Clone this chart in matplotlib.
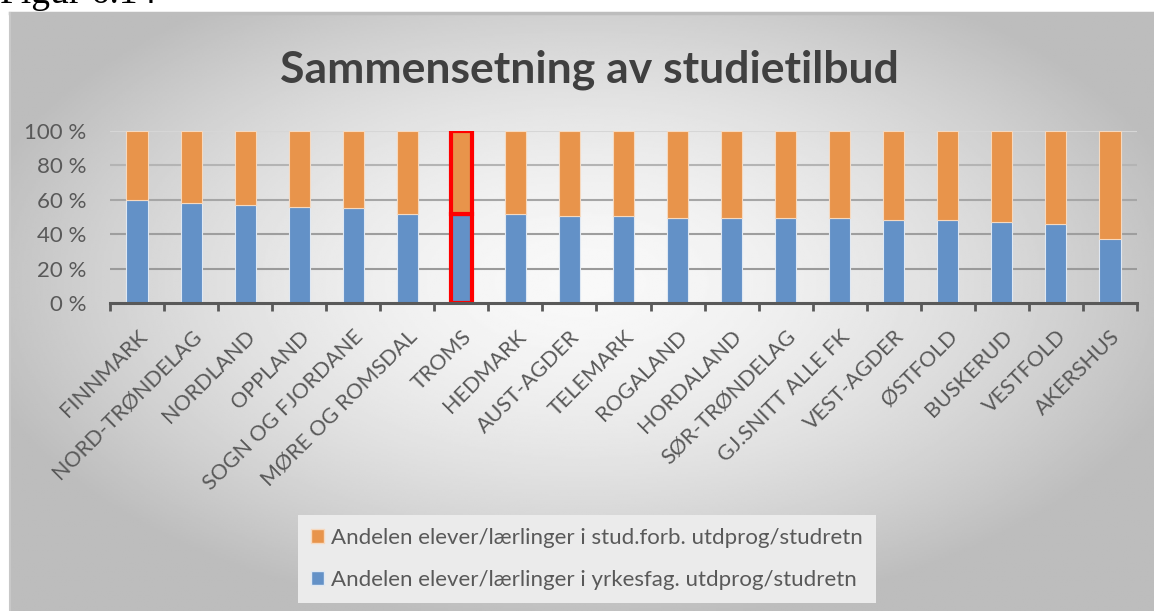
import matplotlib
matplotlib.use("Agg")
import matplotlib.pyplot as plt
import numpy as np
from matplotlib.patches import Patch

plt.rcParams['font.family'] = ['Lato', 'DejaVu Sans']

# data (andeler i prosent, lest av figuren)
fylker = ['FINNMARK', 'NORD-TRØNDELAG', 'NORDLAND', 'OPPLAND', 'SOGN OG FJORDANE',
          'MØRE OG ROMSDAL', 'TROMS', 'HEDMARK', 'AUST-AGDER', 'TELEMARK', 'ROGALAND',
          'HORDALAND', 'SØR-TRØNDELAG', 'GJ.SNITT ALLE FK', 'VEST-AGDER', 'ØSTFOLD',
          'BUSKERUD', 'VESTFOLD', 'AKERSHUS']
yrkesfag = [59.8, 58.1, 56.9, 55.7, 55.5, 51.8, 51.5, 51.8, 50.7, 50.7, 49.5,
            49.5, 49.5, 49.5, 48.3, 48.3, 47.2, 45.8, 37.5]
studforb = [40.2, 41.9, 43.1, 44.3, 44.5, 48.2, 48.5, 48.2, 49.3, 49.3, 50.5,
            50.5, 50.5, 50.5, 51.7, 51.7, 52.8, 54.2, 62.5]
y_ticks = [0, 20, 40, 60, 80, 100]
markert = 'TROMS'

tittel = 'Sammensetning av studietilbud'
navn_studforb = 'Andelen elever/lærlinger i stud.forb. utdprog/studretn'
navn_yrkesfag = 'Andelen elever/lærlinger i yrkesfag. utdprog/studretn'

blue = '#6391C7'
orange = '#E8944B'
txt = '#595959'

W, H = 1154, 611
fig = plt.figure(figsize=(W / 100, H / 100), dpi=100)

# bakgrunn med radiell gradient
bg = fig.add_axes([10 / W, 0, 1 - 10 / W, 1 - 13 / H])
xx, yy = np.meshgrid(np.linspace(-1, 1, 600), np.linspace(-1, 1, 320))
d = np.sqrt(((xx - 0.0) / 1.05) ** 2 + ((yy + 0.1) / 1.1) ** 2)
shade = np.clip(0.975 - 0.22 * d ** 1.6, 0.74, 1)
bg.imshow(shade, cmap='gray', vmin=0, vmax=1, aspect='auto', origin='upper',
          extent=[0, 1, 0, 1])
bg.set_xlim(0, 1)
bg.set_ylim(0, 1)
bg.axis('off')
fig.add_artist(plt.Line2D([10 / W, 1], [1 - 13 / H, 1 - 13 / H], color='#bdbdbd', lw=2.5,
                          transform=fig.transFigure))
fig.add_artist(plt.Line2D([10 / W, 10 / W], [0, 1 - 13 / H], color='#c8c8c8', lw=1.5,
                          transform=fig.transFigure))

fig.text(0.0, 1 - 3 / H, 'Figur 6.14', family='Liberation Serif', fontsize=27,
         va='baseline', ha='left', color='black')

ax = fig.add_axes([110 / W, 1 - 303 / H, (1137 - 110) / W, (303 - 131) / H])
ax.patch.set_alpha(0)
x = np.arange(len(fylker))
bw = 0.39
b1 = ax.bar(x, yrkesfag, bw, color=blue, edgecolor='#dfe8f3', linewidth=0.8, zorder=3)
b2 = ax.bar(x, studforb, bw, bottom=yrkesfag, color=orange, edgecolor='#f6d9bf',
            linewidth=0.8, zorder=3)
i = fylker.index(markert)
for b in (b1[i], b2[i]):
    b.set_edgecolor('red')
    b.set_linewidth(3)
    b.set_zorder(4)

ax.set_xlim(-0.5, len(fylker) - 0.5)
ax.set_ylim(0, 100)
ax.set_yticks(y_ticks)
ax.set_yticklabels([f'{v} %' for v in y_ticks])
grid_cols = ['#9a9a9a', '#9e9e9e', '#a6a6a6', '#b4b4b4', '#d6d6d6']
for v, c in zip(y_ticks[1:], grid_cols):
    ax.axhline(v, color=c, lw=1.5, zorder=1)
ax.tick_params(axis='y', length=0, pad=17, labelsize=16, labelcolor=txt)

ax.set_xticks(x)
ax.set_xticklabels(fylker, rotation=45, ha='right', rotation_mode='anchor')
ax.set_xticks(np.arange(len(fylker) + 1) - 0.5, minor=True)
ax.tick_params(axis='x', which='major', length=0, pad=17, labelsize=15.5, labelcolor=txt)
ax.tick_params(axis='x', which='minor', length=6, width=2, color='#595959', direction='out')
for s in ('top', 'right', 'left'):
    ax.spines[s].set_visible(False)
ax.spines['bottom'].set_color('#595959')
ax.spines['bottom'].set_linewidth(2.2)
ax.spines['bottom'].set_zorder(5)

fig.text(0.511, 1 - 83 / H, tittel, ha='center', va='baseline', fontsize=32,
         fontweight='bold', color='#404040')

handles = [Patch(facecolor=orange, edgecolor='#f6d9bf'), Patch(facecolor=blue, edgecolor='#dfe8f3')]
leg = fig.legend(handles, [navn_studforb, navn_yrkesfag], loc='center',
                 bbox_to_anchor=(587 / W, 1 - 559 / H), frameon=True, fancybox=False,
                 facecolor='#ebebeb', edgecolor='none', framealpha=1, fontsize=16,
                 labelcolor=txt, labelspacing=1.0, handlelength=0.6, handleheight=0.6,
                 handletextpad=0.3, borderpad=0.6, borderaxespad=0)

fig.savefig('out.png', dpi=100)
